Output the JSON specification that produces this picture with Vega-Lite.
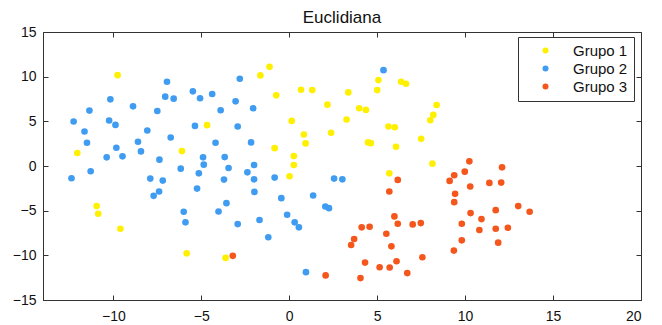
{
  "$schema": "https://vega.github.io/schema/vega-lite/v6.json",
  "autosize": {"type": "none"},
  "width": 598,
  "height": 268,
  "padding": {"left": 43, "top": 32, "right": 21, "bottom": 25},
  "background": "white",
  "config": {
    "font": "Liberation Sans",
    "view": {"stroke": "#333", "strokeWidth": 1},
    "axis": {"grid": false, "domainColor": "#333", "tickColor": "#333", "labelColor": "#111", "labelFontSize": 14, "labelFont": "Liberation Sans", "tickSize": -5, "titleFontSize": 0}
  },
  "title": {"text": "Euclidiana", "fontSize": 17, "fontWeight": "normal", "font": "Liberation Sans", "color": "#111", "offset": -2},
  "data": {"values": [
    {"x": -9.76, "y": 10.17, "g": "Grupo 1"},
    {"x": -12.05, "y": 1.45, "g": "Grupo 1"},
    {"x": -10.95, "y": -4.49, "g": "Grupo 1"},
    {"x": -10.86, "y": -5.35, "g": "Grupo 1"},
    {"x": -9.6, "y": -7.02, "g": "Grupo 1"},
    {"x": -6.1, "y": 1.67, "g": "Grupo 1"},
    {"x": -4.67, "y": 4.57, "g": "Grupo 1"},
    {"x": -5.83, "y": -9.77, "g": "Grupo 1"},
    {"x": -3.62, "y": -10.29, "g": "Grupo 1"},
    {"x": -1.64, "y": 10.14, "g": "Grupo 1"},
    {"x": -1.12, "y": 11.1, "g": "Grupo 1"},
    {"x": -0.74, "y": 7.91, "g": "Grupo 1"},
    {"x": -0.83, "y": 2.0, "g": "Grupo 1"},
    {"x": 0.14, "y": 5.05, "g": "Grupo 1"},
    {"x": 0.26, "y": 1.11, "g": "Grupo 1"},
    {"x": 0.26, "y": 0.11, "g": "Grupo 1"},
    {"x": 0.02, "y": -1.15, "g": "Grupo 1"},
    {"x": 0.67, "y": 8.54, "g": "Grupo 1"},
    {"x": 1.31, "y": 8.5, "g": "Grupo 1"},
    {"x": 0.83, "y": 3.53, "g": "Grupo 1"},
    {"x": 0.93, "y": 2.53, "g": "Grupo 1"},
    {"x": 2.17, "y": 6.87, "g": "Grupo 1"},
    {"x": 2.38, "y": 3.71, "g": "Grupo 1"},
    {"x": 3.36, "y": 8.24, "g": "Grupo 1"},
    {"x": 3.26, "y": 5.2, "g": "Grupo 1"},
    {"x": 3.98, "y": 6.46, "g": "Grupo 1"},
    {"x": 4.36, "y": 6.28, "g": "Grupo 1"},
    {"x": 4.48, "y": 2.64, "g": "Grupo 1"},
    {"x": 4.64, "y": 2.56, "g": "Grupo 1"},
    {"x": 5.0, "y": 8.5, "g": "Grupo 1"},
    {"x": 5.07, "y": 9.62, "g": "Grupo 1"},
    {"x": 5.64, "y": 4.42, "g": "Grupo 1"},
    {"x": 6.0, "y": 4.34, "g": "Grupo 1"},
    {"x": 6.07, "y": 2.15, "g": "Grupo 1"},
    {"x": 5.69, "y": -0.82, "g": "Grupo 1"},
    {"x": 6.36, "y": 9.43, "g": "Grupo 1"},
    {"x": 6.64, "y": 9.21, "g": "Grupo 1"},
    {"x": 7.5, "y": 3.04, "g": "Grupo 1"},
    {"x": 8.02, "y": 5.12, "g": "Grupo 1"},
    {"x": 8.19, "y": 5.72, "g": "Grupo 1"},
    {"x": 8.38, "y": 6.83, "g": "Grupo 1"},
    {"x": 8.14, "y": 0.26, "g": "Grupo 1"},
    {"x": -12.38, "y": -1.37, "g": "Grupo 2"},
    {"x": -12.26, "y": 4.98, "g": "Grupo 2"},
    {"x": -11.64, "y": 3.86, "g": "Grupo 2"},
    {"x": -11.5, "y": 2.6, "g": "Grupo 2"},
    {"x": -11.36, "y": 6.2, "g": "Grupo 2"},
    {"x": -11.29, "y": -0.59, "g": "Grupo 2"},
    {"x": -10.38, "y": 0.97, "g": "Grupo 2"},
    {"x": -10.24, "y": 5.09, "g": "Grupo 2"},
    {"x": -10.17, "y": 7.46, "g": "Grupo 2"},
    {"x": -9.88, "y": 4.6, "g": "Grupo 2"},
    {"x": -9.83, "y": 2.04, "g": "Grupo 2"},
    {"x": -9.48, "y": 1.08, "g": "Grupo 2"},
    {"x": -8.88, "y": 6.68, "g": "Grupo 2"},
    {"x": -8.6, "y": 2.71, "g": "Grupo 2"},
    {"x": -8.43, "y": 1.63, "g": "Grupo 2"},
    {"x": -8.07, "y": 3.97, "g": "Grupo 2"},
    {"x": -7.9, "y": -1.41, "g": "Grupo 2"},
    {"x": -7.71, "y": -3.34, "g": "Grupo 2"},
    {"x": -7.5, "y": 6.16, "g": "Grupo 2"},
    {"x": -7.38, "y": 0.71, "g": "Grupo 2"},
    {"x": -7.4, "y": -2.86, "g": "Grupo 2"},
    {"x": -7.19, "y": -1.63, "g": "Grupo 2"},
    {"x": -7.05, "y": 7.76, "g": "Grupo 2"},
    {"x": -6.95, "y": 9.43, "g": "Grupo 2"},
    {"x": -6.74, "y": 3.19, "g": "Grupo 2"},
    {"x": -6.57, "y": 7.54, "g": "Grupo 2"},
    {"x": -6.17, "y": -0.3, "g": "Grupo 2"},
    {"x": -6.0, "y": -5.12, "g": "Grupo 2"},
    {"x": -5.9, "y": -6.31, "g": "Grupo 2"},
    {"x": -5.48, "y": 8.36, "g": "Grupo 2"},
    {"x": -5.36, "y": 4.49, "g": "Grupo 2"},
    {"x": -5.24, "y": -2.53, "g": "Grupo 2"},
    {"x": -5.14, "y": -0.82, "g": "Grupo 2"},
    {"x": -5.07, "y": 7.58, "g": "Grupo 2"},
    {"x": -4.9, "y": 0.97, "g": "Grupo 2"},
    {"x": -4.86, "y": 0.15, "g": "Grupo 2"},
    {"x": -4.38, "y": 8.06, "g": "Grupo 2"},
    {"x": -4.19, "y": 2.6, "g": "Grupo 2"},
    {"x": -4.02, "y": -5.09, "g": "Grupo 2"},
    {"x": -3.9, "y": 6.24, "g": "Grupo 2"},
    {"x": -3.71, "y": -1.52, "g": "Grupo 2"},
    {"x": -3.67, "y": 1.0, "g": "Grupo 2"},
    {"x": -3.57, "y": -4.16, "g": "Grupo 2"},
    {"x": -3.45, "y": -0.22, "g": "Grupo 2"},
    {"x": -3.05, "y": 7.24, "g": "Grupo 2"},
    {"x": -2.93, "y": 4.42, "g": "Grupo 2"},
    {"x": -2.93, "y": -6.5, "g": "Grupo 2"},
    {"x": -2.81, "y": 9.77, "g": "Grupo 2"},
    {"x": -2.38, "y": -0.71, "g": "Grupo 2"},
    {"x": -2.17, "y": 2.64, "g": "Grupo 2"},
    {"x": -2.05, "y": 6.46, "g": "Grupo 2"},
    {"x": -2.0, "y": 0.11, "g": "Grupo 2"},
    {"x": -2.0, "y": -1.49, "g": "Grupo 2"},
    {"x": -1.98, "y": -2.9, "g": "Grupo 2"},
    {"x": -1.69, "y": -6.05, "g": "Grupo 2"},
    {"x": -1.19, "y": -7.98, "g": "Grupo 2"},
    {"x": -0.83, "y": -1.3, "g": "Grupo 2"},
    {"x": -0.45, "y": -3.6, "g": "Grupo 2"},
    {"x": -0.12, "y": -5.46, "g": "Grupo 2"},
    {"x": 0.31, "y": -6.31, "g": "Grupo 2"},
    {"x": 0.55, "y": -6.87, "g": "Grupo 2"},
    {"x": 0.95, "y": -11.88, "g": "Grupo 2"},
    {"x": 1.36, "y": -3.3, "g": "Grupo 2"},
    {"x": 2.05, "y": -4.53, "g": "Grupo 2"},
    {"x": 2.26, "y": -4.72, "g": "Grupo 2"},
    {"x": 2.55, "y": -1.41, "g": "Grupo 2"},
    {"x": 3.02, "y": -1.49, "g": "Grupo 2"},
    {"x": 5.36, "y": 10.73, "g": "Grupo 2"},
    {"x": -3.21, "y": -10.06, "g": "Grupo 3"},
    {"x": 2.07, "y": -12.25, "g": "Grupo 3"},
    {"x": 3.52, "y": -8.84, "g": "Grupo 3"},
    {"x": 3.69, "y": -8.17, "g": "Grupo 3"},
    {"x": 4.12, "y": -6.87, "g": "Grupo 3"},
    {"x": 4.57, "y": -6.8, "g": "Grupo 3"},
    {"x": 4.31, "y": -10.81, "g": "Grupo 3"},
    {"x": 4.05, "y": -12.55, "g": "Grupo 3"},
    {"x": 5.14, "y": -11.33, "g": "Grupo 3"},
    {"x": 5.52, "y": -7.58, "g": "Grupo 3"},
    {"x": 5.71, "y": -11.36, "g": "Grupo 3"},
    {"x": 5.81, "y": -8.99, "g": "Grupo 3"},
    {"x": 5.98, "y": -5.64, "g": "Grupo 3"},
    {"x": 6.17, "y": -6.46, "g": "Grupo 3"},
    {"x": 6.1, "y": -10.66, "g": "Grupo 3"},
    {"x": 5.69, "y": -2.86, "g": "Grupo 3"},
    {"x": 6.17, "y": -1.56, "g": "Grupo 3"},
    {"x": 6.71, "y": -11.99, "g": "Grupo 3"},
    {"x": 7.02, "y": -6.54, "g": "Grupo 3"},
    {"x": 7.48, "y": -6.39, "g": "Grupo 3"},
    {"x": 7.57, "y": -10.21, "g": "Grupo 3"},
    {"x": 9.12, "y": -1.67, "g": "Grupo 3"},
    {"x": 9.38, "y": -1.04, "g": "Grupo 3"},
    {"x": 9.43, "y": -3.12, "g": "Grupo 3"},
    {"x": 9.38, "y": -4.05, "g": "Grupo 3"},
    {"x": 9.36, "y": -9.47, "g": "Grupo 3"},
    {"x": 9.81, "y": -6.46, "g": "Grupo 3"},
    {"x": 9.81, "y": -8.32, "g": "Grupo 3"},
    {"x": 9.98, "y": -0.63, "g": "Grupo 3"},
    {"x": 10.24, "y": 0.52, "g": "Grupo 3"},
    {"x": 10.29, "y": -2.3, "g": "Grupo 3"},
    {"x": 10.31, "y": -5.27, "g": "Grupo 3"},
    {"x": 10.81, "y": -7.17, "g": "Grupo 3"},
    {"x": 10.93, "y": -5.94, "g": "Grupo 3"},
    {"x": 11.38, "y": -1.89, "g": "Grupo 3"},
    {"x": 11.74, "y": -4.94, "g": "Grupo 3"},
    {"x": 11.74, "y": -7.02, "g": "Grupo 3"},
    {"x": 11.88, "y": -8.58, "g": "Grupo 3"},
    {"x": 12.05, "y": -1.86, "g": "Grupo 3"},
    {"x": 12.1, "y": -0.15, "g": "Grupo 3"},
    {"x": 12.43, "y": -6.91, "g": "Grupo 3"},
    {"x": 13.02, "y": -4.49, "g": "Grupo 3"},
    {"x": 13.67, "y": -5.12, "g": "Grupo 3"}
  ]},
  "layer": [
    {
      "mark": {"type": "point", "filled": true, "opacity": 1, "size": 44, "shape": "circle"},
      "encoding": {
        "x": {"field": "x", "type": "quantitative", "scale": {"domain": [-14, 20], "nice": false, "zero": false},
              "axis": {"orient": "bottom", "values": [-10, -5, 0, 5, 10, 15, 20], "title": null, "labelPadding": 14}},
        "y": {"field": "y", "type": "quantitative", "scale": {"domain": [-15, 15], "nice": false, "zero": false},
              "axis": {"orient": "left", "values": [-15, -10, -5, 0, 5, 10, 15], "title": null, "labelPadding": 12}},
        "color": {"field": "g", "type": "nominal",
                  "scale": {"domain": ["Grupo 1", "Grupo 2", "Grupo 3"], "range": ["#FFF000", "#3F9CF0", "#F4561C"]},
                  "legend": {"title": null, "orient": "none", "legendX": 475, "legendY": 5, "strokeColor": "#333", "fillColor": "white", "padding": 6, "labelFontSize": 15, "labelColor": "#111", "labelFont": "Liberation Sans", "symbolSize": 36, "symbolType": "circle", "labelOffset": 20, "rowPadding": 2, "symbolOffset": 14, "cornerRadius": 0}}
      }
    },
    {
      "mark": {"type": "point", "opacity": 0},
      "encoding": {
        "x": {"field": "x", "type": "quantitative", "scale": {"domain": [-14, 20], "nice": false, "zero": false},
              "axis": {"orient": "top", "values": [-10, -5, 0, 5, 10, 15, 20], "labels": false, "title": null, "domain": false}},
        "y": {"field": "y", "type": "quantitative", "scale": {"domain": [-15, 15], "nice": false, "zero": false},
              "axis": {"orient": "right", "values": [-15, -10, -5, 0, 5, 10, 15], "labels": false, "title": null, "domain": false}}
      }
    }
  ],
  "resolve": {"axis": {"x": "independent", "y": "independent"}}
}
